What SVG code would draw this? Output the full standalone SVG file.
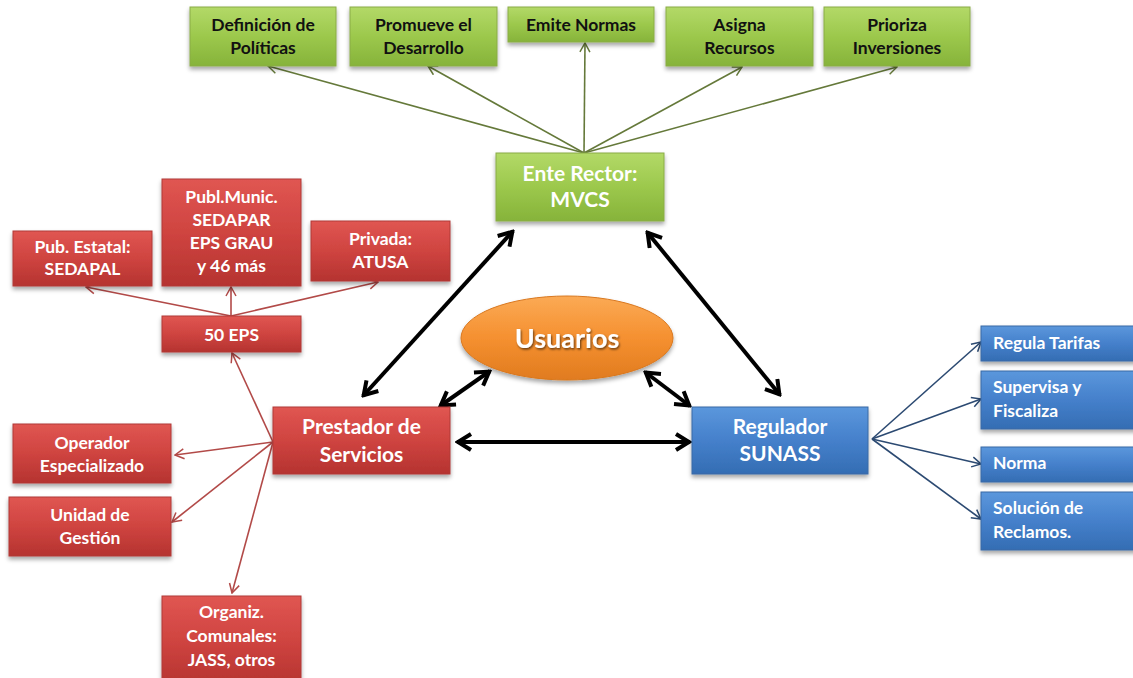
<svg xmlns="http://www.w3.org/2000/svg" width="1133" height="678" viewBox="0 0 1133 678">
<defs>
<linearGradient id="gG" x1="0" y1="0" x2="0" y2="1"><stop offset="0" stop-color="#b3d968"/><stop offset="0.5" stop-color="#9cc84c"/><stop offset="1" stop-color="#86b33a"/></linearGradient>
<linearGradient id="gR" x1="0" y1="0" x2="0" y2="1"><stop offset="0" stop-color="#e05652"/><stop offset="0.5" stop-color="#cf4440"/><stop offset="1" stop-color="#b53330"/></linearGradient>
<linearGradient id="gB" x1="0" y1="0" x2="0" y2="1"><stop offset="0" stop-color="#5b97dc"/><stop offset="0.5" stop-color="#4580cb"/><stop offset="1" stop-color="#346db3"/></linearGradient>
<linearGradient id="gO" x1="0" y1="0" x2="0" y2="1"><stop offset="0" stop-color="#fbaa55"/><stop offset="0.5" stop-color="#f59030"/><stop offset="1" stop-color="#e07b1f"/></linearGradient>
<filter id="sh" x="-10%" y="-10%" width="120%" height="140%"><feDropShadow dx="0" dy="3" stdDeviation="2" flood-color="#000" flood-opacity="0.35"/></filter>
<filter id="ts" x="-10%" y="-20%" width="120%" height="140%"><feDropShadow dx="1" dy="1.5" stdDeviation="1" flood-color="#000" flood-opacity="0.6"/></filter>
<marker id="ag" viewBox="0 0 12 12" refX="11" refY="6" markerWidth="12" markerHeight="12" orient="auto-start-reverse" markerUnits="userSpaceOnUse"><path d="M2,1 L11,6 L2,11" fill="none" stroke="#65793a" stroke-width="1.5"/></marker>
<marker id="ar" viewBox="0 0 12 12" refX="11" refY="6" markerWidth="12" markerHeight="12" orient="auto-start-reverse" markerUnits="userSpaceOnUse"><path d="M2,1 L11,6 L2,11" fill="none" stroke="#b24a48" stroke-width="1.5"/></marker>
<marker id="ab" viewBox="0 0 12 12" refX="11" refY="6" markerWidth="12" markerHeight="12" orient="auto-start-reverse" markerUnits="userSpaceOnUse"><path d="M2,1 L11,6 L2,11" fill="none" stroke="#2c4a72" stroke-width="1.5"/></marker>
<marker id="ak" viewBox="0 0 20 20" refX="18" refY="10" markerWidth="20" markerHeight="20" orient="auto-start-reverse" markerUnits="userSpaceOnUse"><path d="M4,2 L17,10 L4,18" fill="none" stroke="#000" stroke-width="4" stroke-linejoin="miter"/></marker>
</defs>
<style>
.g{fill:url(#gG);stroke:#8aac47;stroke-width:1;filter:url(#sh)}
.r{fill:url(#gR);stroke:#b03a37;stroke-width:1;filter:url(#sh)}
.b{fill:url(#gB);stroke:#3a6aa5;stroke-width:1;filter:url(#sh)}
text{font-family:Lato,"Open Sans","Liberation Sans",sans-serif;font-weight:bold;text-anchor:middle}
.tk{fill:#111;font-size:17.5px}
.tw{fill:#fff;font-size:17.5px}
.tl{fill:#fff;font-size:21px}
.tb{fill:#fff;font-size:17.5px;text-anchor:start}
.cg{stroke:#65793a;stroke-width:1.6;fill:none;marker-end:url(#ag)}
.cr{stroke:#b24a48;stroke-width:1.6;fill:none;marker-end:url(#ar)}
.cb{stroke:#2c4a72;stroke-width:1.6;fill:none;marker-end:url(#ab)}
.ck{stroke:#000;stroke-width:4;fill:none;marker-start:url(#ak);marker-end:url(#ak)}
</style>
<g id="connectors">
<line class="cg" x1="584" y1="153" x2="268" y2="66"/>
<line class="cg" x1="584" y1="153" x2="428" y2="66"/>
<line class="cg" x1="584" y1="153" x2="585" y2="43"/>
<line class="cg" x1="584" y1="153" x2="742" y2="67"/>
<line class="cg" x1="584" y1="153" x2="897" y2="67"/>
<line class="cr" x1="231" y1="316" x2="86" y2="287"/>
<line class="cr" x1="231" y1="316" x2="231" y2="287"/>
<line class="cr" x1="231" y1="316" x2="378" y2="282"/>
<line class="cr" x1="273" y1="442" x2="232" y2="353"/>
<line class="cr" x1="273" y1="442" x2="175" y2="455"/>
<line class="cr" x1="273" y1="442" x2="172" y2="522"/>
<line class="cr" x1="273" y1="442" x2="232" y2="593"/>
<line class="cb" x1="872" y1="439" x2="981" y2="342"/>
<line class="cb" x1="872" y1="439" x2="981" y2="399"/>
<line class="cb" x1="872" y1="439" x2="981" y2="464"/>
<line class="cb" x1="872" y1="439" x2="981" y2="519"/>
<line class="ck" x1="363" y1="396" x2="513" y2="231"/>
<line class="ck" x1="647" y1="232" x2="780" y2="395"/>
<line class="ck" x1="457" y1="442" x2="690" y2="442"/>
<line class="ck" x1="440" y1="406" x2="490" y2="371"/>
<line class="ck" x1="645" y1="372" x2="690" y2="406"/>
</g>
<g id="definicion"><rect class="g" x="190" y="7" width="146" height="59"/><text class="tk" x="263" y="31">Definición de</text><text class="tk" x="263" y="54">Políticas</text></g>
<g id="promueve"><rect class="g" x="350" y="7" width="147" height="59"/><text class="tk" x="423.5" y="31">Promueve el</text><text class="tk" x="423.5" y="54">Desarrollo</text></g>
<g id="emite"><rect class="g" x="508" y="7" width="146" height="35"/><text class="tk" x="581" y="31">Emite Normas</text></g>
<g id="asigna"><rect class="g" x="666" y="7" width="147" height="59"/><text class="tk" x="739.5" y="31">Asigna</text><text class="tk" x="739.5" y="54">Recursos</text></g>
<g id="prioriza"><rect class="g" x="824" y="7" width="146" height="59"/><text class="tk" x="897" y="31">Prioriza</text><text class="tk" x="897" y="54">Inversiones</text></g>
<g id="ente"><rect class="g" x="496" y="153" width="168" height="68"/><text class="tl" x="580" y="181">Ente Rector:</text><text class="tl" x="580" y="207">MVCS</text></g>
<g id="usuarios"><ellipse cx="567" cy="338" rx="106" ry="42" fill="url(#gO)" stroke="#d9781f" stroke-width="1" filter="url(#sh)"/><text x="567" y="348" fill="#fff" font-size="27" filter="url(#ts)">Usuarios</text></g>
<g id="estatal"><rect class="r" x="13" y="231" width="139" height="55"/><text class="tw" x="82.5" y="253">Pub. Estatal:</text><text class="tw" x="82.5" y="275">SEDAPAL</text></g>
<g id="munic"><rect class="r" x="162" y="179" width="139" height="107"/><text class="tw" x="231.5" y="203">Publ.Munic.</text><text class="tw" x="231.5" y="226">SEDAPAR</text><text class="tw" x="231.5" y="249">EPS GRAU</text><text class="tw" x="231.5" y="272">y 46 más</text></g>
<g id="privada"><rect class="r" x="311" y="221" width="139" height="60"/><text class="tw" x="380.5" y="245">Privada:</text><text class="tw" x="380.5" y="268">ATUSA</text></g>
<g id="eps"><rect class="r" x="162" y="316" width="139" height="36"/><text class="tw" x="231.5" y="341">50 EPS</text></g>
<g id="prestador"><rect class="r" x="273" y="407" width="177" height="67"/><text class="tl" x="361.5" y="434">Prestador de</text><text class="tl" x="361.5" y="462">Servicios</text></g>
<g id="operador"><rect class="r" x="13" y="424" width="158" height="59"/><text class="tw" x="92" y="449">Operador</text><text class="tw" x="92" y="472">Especializado</text></g>
<g id="unidad"><rect class="r" x="9" y="497" width="162" height="59"/><text class="tw" x="90" y="521">Unidad de</text><text class="tw" x="90" y="544">Gestión</text></g>
<g id="organiz"><rect class="r" x="162" y="596" width="139" height="90"/><text class="tw" x="231.5" y="618">Organiz.</text><text class="tw" x="231.5" y="642">Comunales:</text><text class="tw" x="231.5" y="666">JASS, otros</text></g>
<g id="regulador"><rect class="b" x="692" y="407" width="176" height="67"/><text class="tl" x="780" y="434">Regulador</text><text class="tl" x="780" y="461">SUNASS</text></g>
<g id="tarifas"><rect class="b" x="981" y="326" width="160" height="35"/><text class="tb" x="993" y="349">Regula Tarifas</text></g>
<g id="supervisa"><rect class="b" x="981" y="371" width="160" height="58"/><text class="tb" x="993" y="393">Supervisa y</text><text class="tb" x="993" y="417">Fiscaliza</text></g>
<g id="norma"><rect class="b" x="981" y="447" width="160" height="35"/><text class="tb" x="993" y="469">Norma</text></g>
<g id="solucion"><rect class="b" x="981" y="492" width="160" height="58"/><text class="tb" x="993" y="514">Solución de</text><text class="tb" x="993" y="538">Reclamos.</text></g>
</svg>
